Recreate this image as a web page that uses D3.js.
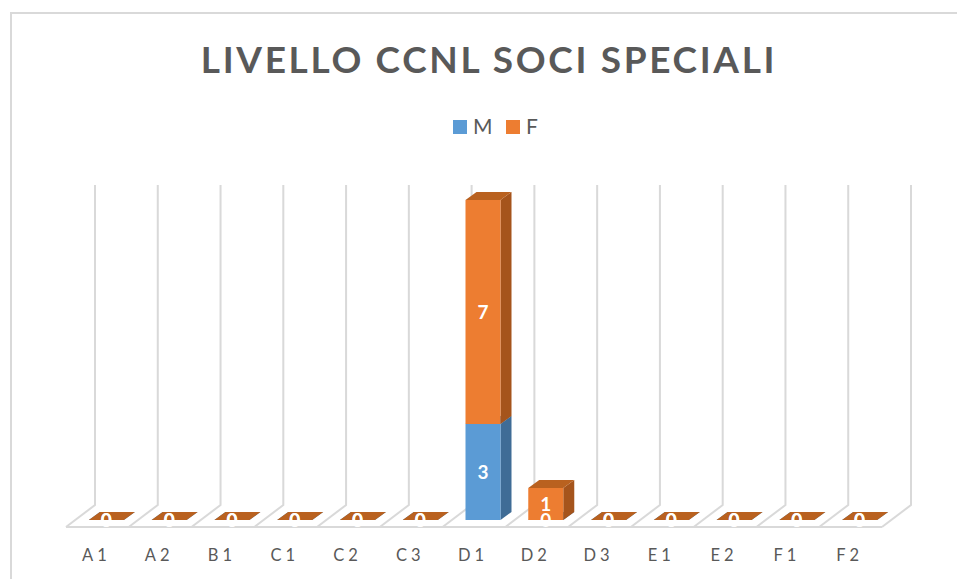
<!DOCTYPE html>
<html>
<head>
<meta charset="utf-8">
<title>Livello CCNL soci speciali</title>
<script src="https://cdnjs.cloudflare.com/ajax/libs/d3/7.8.5/d3.min.js"></script>
<style>
	html, body { margin: 0; padding: 0; background: #fff; }
	svg { display: block; }
	text { font-family: Lato, "Open Sans", sans-serif; fill: #595959; }
</style>
</head>
<body>
<div id="chart"></div>
<script>
var categories = ["A1", "A2", "B1", "C1", "C2", "C3", "D1", "D2", "D3", "E1", "E2", "F1", "F2"];
var valuesM = [0, 0, 0, 0, 0, 0, 3, 0, 0, 0, 0, 0, 0];
var valuesF = [0, 0, 0, 0, 0, 0, 7, 1, 0, 0, 0, 0, 0];
var seriesNames = ["M", "F"];

var width = 957, height = 579;

var colors = {
	M: { front: "#5b9bd5", top: "#4a7fae", side: "#3f6c96" },
	F: { front: "#ed7d31", top: "#b9611f", side: "#a5541c" }
};

var svg = d3.select("#chart")
  .append("svg")
    .attr("width", width)
    .attr("height", height);

// chart frame, only top and left show in the picture
svg.append("path")
    .attr("d", "M11,579V13H957")
    .attr("fill", "none")
    .attr("stroke", "#d9d9d9")
    .attr("stroke-width", 2);

svg.append("text")
    .attr("x", 489)
    .attr("y", 73)
    .attr("text-anchor", "middle")
    .style("font-size", "37px")
    .style("font-weight", 700)
    .style("letter-spacing", "2.65px")
    .text("LIVELLO CCNL SOCI SPECIALI");

// legend
var legendX = d3.scaleOrdinal().domain(seriesNames).range([453, 506]);
var legend = svg.selectAll(".legend")
    .data(seriesNames)
  .enter().append("g")
    .attr("class", "legend")
    .attr("transform", function(d) { return "translate(" + legendX(d) + ",120)"; });

legend.append("rect")
    .attr("width", 14)
    .attr("height", 14)
    .attr("fill", function(d) { return colors[d].front; });

legend.append("text")
    .attr("x", 20)
    .attr("y", 14)
    .style("font-size", "21px")
    .text(function(d) { return d; });

// the floor runs along floorY at the front, the wall stands depth px further back
var floorY = 527;
var wallDx = 29, wallDy = 22, wallTop = 185;
var barDx = 11, barDy = 8, barShift = 9;

var x = d3.scaleBand()
    .domain(categories)
    .range([66, 882]);

var y = d3.scaleLinear()
    .domain([0, 10])
    .range([520, 200]);

var edges = categories.map(function(d) { return x(d); }).concat([x.range()[1]]);

var walls = svg.append("g")
    .attr("fill", "none")
    .attr("stroke", "#d9d9d9")
    .attr("stroke-width", 2);

walls.selectAll("path")
    .data(edges)
  .enter().append("path")
    .attr("d", function(d) {
		return "M" + (d + wallDx) + "," + wallTop
			+ "V" + (floorY - wallDy)
			+ "L" + d + "," + floorY;
    });

walls.append("line")
    .attr("x1", x.range()[0])
    .attr("x2", x.range()[1])
    .attr("y1", floorY)
    .attr("y2", floorY);

// stack the two series per category
var rows = categories.map(function(c, i) {
	return { cat: c, M: valuesM[i], F: valuesF[i] };
});
var stacked = d3.stack().keys(seriesNames)(rows);

var barW = 35;
function barX(d) {
	return x(d.data.cat) + barShift + (x.bandwidth() - barW) / 2;
}

var layers = svg.selectAll(".layer")
    .data(stacked)
  .enter().append("g")
    .attr("class", "layer");

layers.each(function(s) {
	var g = d3.select(this);
	var c = colors[s.key];
	var bars = g.selectAll("g")
	    .data(s)
	  .enter().append("g");

	// side
	bars.append("path")
	    .attr("fill", c.side)
	    .attr("d", function(d) {
			var r = barX(d) + barW;
			return "M" + r + "," + y(d[0])
				+ "L" + (r + barDx) + "," + (y(d[0]) - barDy)
				+ "L" + (r + barDx) + "," + (y(d[1]) - barDy)
				+ "L" + r + "," + y(d[1]) + "Z";
	    });

	// top
	bars.append("path")
	    .attr("fill", c.top)
	    .attr("d", function(d) {
			var l = barX(d), t = y(d[1]);
			return "M" + l + "," + t
				+ "L" + (l + barDx) + "," + (t - barDy)
				+ "L" + (l + barW + barDx) + "," + (t - barDy)
				+ "L" + (l + barW) + "," + t + "Z";
	    });

	// front
	bars.append("rect")
	    .attr("fill", c.front)
	    .attr("x", barX)
	    .attr("y", function(d) { return y(d[1]); })
	    .attr("width", barW)
	    .attr("height", function(d) { return y(d[0]) - y(d[1]); });
});

// value labels go last so they sit over every bar
stacked.forEach(function(s) {
	svg.append("g").selectAll("text")
	    .data(s)
	  .enter().append("text")
	    .attr("x", function(d) { return barX(d) + barW / 2; })
	    .attr("y", function(d) { return (y(d[0]) + y(d[1])) / 2; })
	    .attr("dy", "0.36em")
	    .attr("text-anchor", "middle")
	    .style("fill", "#fff")
	    .style("font-size", "19px")
	    .style("font-weight", 700)
	    .text(function(d) { return d[1] - d[0]; });
});

// category axis
var axis = svg.append("g")
    .attr("transform", "translate(-1," + floorY + ")")
    .call(d3.axisBottom(x).tickSize(0).tickPadding(22));

axis.select(".domain").remove();
axis.selectAll("text")
    .style("font-family", "Lato, sans-serif")
    .style("font-size", "16.5px")
    .style("letter-spacing", "4px")
    .style("fill", "#595959");
</script>
</body>
</html>
